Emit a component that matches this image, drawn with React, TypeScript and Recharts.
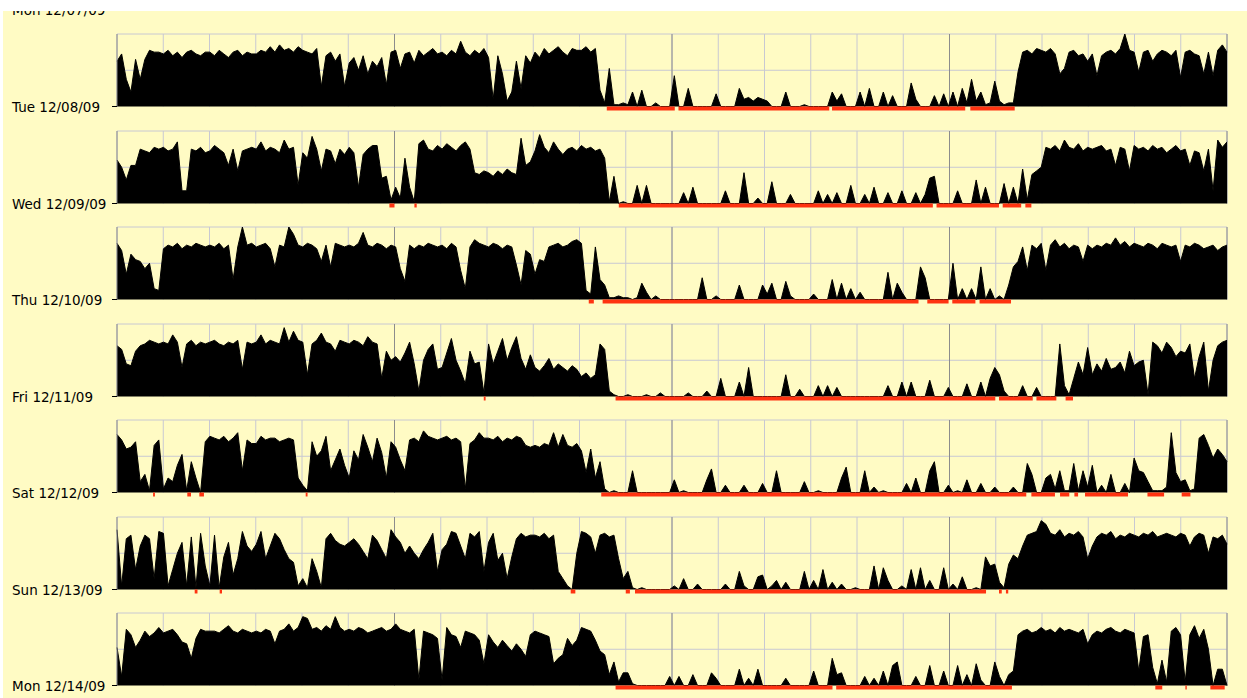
import React from "react";
import {
  ComposedChart,
  Area,
  XAxis,
  YAxis,
  CartesianGrid,
  ReferenceArea,
} from "recharts";

// activity counts in 6-minute bins (10 per hour, 240 per day), scale 0..40
const dayLabels = [
  "Mon 12/07/09",
  "Tue 12/08/09",
  "Wed 12/09/09",
  "Thu 12/10/09",
  "Fri 12/11/09",
  "Sat 12/12/09",
  "Sun 12/13/09",
  "Mon 12/14/09",
];

const hourTicks = [0, 1, 2, 3, 4, 5, 6, 7, 8, 9, 10, 11, 12, 13, 14, 15, 16, 17, 18, 19, 20, 21, 22, 23, 24];
const majorHours = [6, 12, 18, 24];
const levelLines = [10, 20, 30, 40];

const tueActivity = [
  25, 29, 15, 8, 26, 15, 26, 31, 30, 30, 29, 31, 28, 30, 27, 30, 31, 29, 28, 30,
  30, 28, 31, 29, 27, 30, 31, 28, 30, 29, 29, 31, 30, 33, 30, 34, 31, 32, 30, 33,
  31, 30, 29, 32, 11, 28, 30, 25, 29, 11, 24, 27, 20, 28, 18, 25, 22, 27, 12, 30,
  31, 21, 29, 30, 24, 31, 28, 30, 32, 29, 30, 28, 31, 29, 36, 30, 28, 31, 29, 32,
  27, 4, 28, 18, 3, 8, 25, 10, 28, 24, 30, 27, 32, 29, 31, 33, 30, 28, 32, 31,
  31, 33, 30, 32, 9, 2, 21, 1, 1, 2, 1, 8, 0, 9, 0, 0, 2, 0, 0, 0,
  17, 0, 0, 10, 0, 0, 0, 0, 0, 7, 0, 0, 0, 0, 10, 4, 5, 3, 5, 4,
  3, 0, 0, 0, 8, 0, 0, 0, 1, 0, 0, 0, 0, 0, 8, 3, 7, 0, 0, 0,
  8, 0, 10, 0, 0, 8, 0, 6, 0, 0, 0, 13, 4, 0, 0, 0, 6, 0, 7, 0,
  8, 0, 10, 2, 15, 3, 8, 1, 2, 14, 3, 1, 2, 2, 19, 30, 31, 29, 32, 31,
  30, 32, 29, 18, 21, 30, 31, 28, 29, 25, 29, 17, 28, 30, 31, 29, 32, 40, 31, 30,
  19, 30, 31, 25, 29, 31, 30, 28, 31, 16, 30, 31, 29, 28, 18, 30, 17, 31, 34, 30,
];

const wedActivity = [
  24, 20, 13, 21, 21, 30, 29, 28, 31, 30, 31, 29, 30, 34, 7, 7, 30, 29, 31, 28,
  29, 32, 30, 28, 21, 30, 18, 29, 30, 31, 30, 34, 29, 31, 30, 28, 35, 30, 31, 10,
  28, 25, 37, 30, 18, 30, 29, 22, 30, 27, 31, 28, 9, 27, 30, 32, 32, 14, 15, 2,
  9, 3, 25, 9, 1, 33, 35, 30, 29, 32, 30, 33, 31, 29, 32, 34, 30, 17, 16, 18,
  17, 15, 18, 16, 19, 17, 16, 36, 21, 23, 29, 38, 31, 28, 34, 30, 27, 30, 31, 29,
  32, 30, 31, 29, 30, 25, 1, 15, 0, 1, 0, 0, 10, 0, 10, 0, 0, 0, 0, 0,
  0, 0, 6, 0, 9, 0, 0, 0, 0, 0, 0, 7, 0, 0, 0, 17, 0, 0, 3, 0,
  0, 12, 0, 0, 0, 5, 0, 0, 0, 0, 0, 7, 0, 5, 0, 6, 0, 0, 10, 0,
  0, 5, 0, 9, 0, 0, 6, 0, 0, 7, 0, 0, 6, 0, 5, 14, 15, 0, 0, 0,
  0, 7, 0, 0, 0, 13, 0, 9, 0, 0, 0, 11, 0, 9, 0, 19, 2, 16, 18, 20,
  31, 30, 32, 29, 35, 31, 30, 33, 29, 31, 30, 31, 32, 29, 30, 21, 31, 30, 18, 32,
  30, 31, 29, 32, 30, 31, 28, 30, 32, 29, 30, 21, 29, 28, 18, 30, 7, 35, 31, 34,
];

const thuActivity = [
  31, 27, 14, 25, 22, 21, 17, 20, 6, 5, 28, 30, 29, 31, 28, 30, 29, 31, 30, 29,
  30, 29, 31, 28, 30, 11, 29, 40, 30, 31, 29, 30, 31, 28, 18, 30, 29, 40, 36, 30,
  29, 31, 30, 28, 21, 30, 18, 31, 30, 29, 30, 29, 31, 37, 30, 29, 31, 30, 28, 30,
  29, 17, 10, 30, 28, 30, 29, 31, 30, 29, 30, 28, 31, 29, 16, 6, 29, 33, 31, 30,
  29, 31, 30, 28, 30, 29, 19, 8, 27, 25, 14, 22, 21, 29, 30, 31, 29, 30, 32, 33,
  31, 5, 3, 29, 11, 8, 1, 1, 2, 1, 1, 0, 1, 9, 4, 0, 2, 0, 0, 0,
  0, 0, 0, 0, 0, 0, 12, 0, 0, 2, 0, 0, 0, 0, 8, 0, 0, 0, 0, 8,
  3, 9, 0, 0, 10, 2, 0, 0, 0, 0, 3, 0, 0, 0, 11, 0, 9, 0, 6, 0,
  4, 0, 0, 0, 0, 0, 15, 0, 9, 4, 0, 0, 0, 18, 12, 0, 0, 0, 0, 0,
  20, 0, 6, 0, 6, 0, 18, 0, 6, 0, 2, 0, 8, 18, 21, 29, 16, 30, 28, 31,
  16, 30, 33, 29, 31, 28, 30, 29, 21, 30, 28, 30, 29, 31, 30, 34, 30, 32, 29, 31,
  30, 29, 31, 30, 28, 31, 30, 29, 30, 21, 30, 29, 31, 30, 28, 29, 30, 27, 29, 30,
];

const friActivity = [
  28, 26, 18, 17, 25, 28, 29, 31, 30, 29, 30, 29, 34, 30, 16, 29, 31, 28, 30, 29,
  30, 31, 29, 28, 30, 29, 31, 15, 30, 29, 30, 34, 29, 31, 30, 29, 38, 30, 36, 31,
  30, 12, 29, 31, 35, 30, 29, 25, 31, 30, 29, 31, 30, 28, 33, 30, 29, 10, 25, 20,
  22, 19, 24, 30, 18, 3, 20, 26, 29, 15, 16, 24, 32, 20, 14, 7, 25, 18, 19, 2,
  29, 18, 25, 32, 20, 27, 33, 21, 15, 23, 16, 14, 17, 21, 15, 18, 16, 14, 17, 15,
  11, 13, 10, 12, 29, 26, 3, 1, 0, 0, 1, 0, 0, 0, 1, 0, 0, 2, 0, 0,
  0, 0, 0, 2, 0, 0, 0, 3, 0, 0, 10, 0, 0, 0, 8, 0, 16, 0, 0, 0,
  0, 0, 0, 0, 12, 0, 0, 4, 0, 0, 0, 6, 0, 6, 0, 5, 0, 0, 0, 0,
  0, 0, 0, 0, 0, 0, 6, 0, 0, 8, 0, 8, 0, 0, 0, 9, 0, 0, 0, 5,
  0, 0, 0, 7, 0, 0, 8, 0, 10, 16, 12, 3, 0, 0, 0, 6, 0, 0, 5, 0,
  0, 0, 0, 29, 6, 1, 10, 19, 12, 27, 12, 18, 14, 21, 15, 16, 19, 13, 25, 17,
  19, 20, 1, 30, 28, 24, 30, 27, 22, 25, 24, 29, 10, 22, 30, 3, 20, 28, 30, 31,
];

const satActivity = [
  32, 29, 24, 25, 28, 6, 10, 1, 26, 29, 2, 8, 6, 15, 21, 1, 17, 8, 0, 28,
  31, 30, 29, 31, 28, 30, 33, 12, 29, 27, 27, 31, 29, 30, 30, 28, 29, 30, 29, 8,
  4, 1, 28, 20, 23, 31, 12, 18, 24, 15, 8, 23, 18, 32, 25, 17, 30, 22, 8, 28,
  25, 18, 12, 29, 30, 28, 34, 31, 30, 29, 30, 31, 29, 30, 28, 2, 27, 29, 33, 30,
  30, 29, 31, 28, 30, 29, 31, 30, 26, 25, 26, 25, 27, 26, 33, 25, 32, 26, 25, 27,
  23, 11, 24, 8, 17, 2, 0, 1, 0, 0, 0, 12, 0, 0, 0, 0, 0, 0, 0, 0,
  7, 0, 1, 0, 0, 0, 0, 7, 13, 0, 0, 4, 0, 0, 0, 4, 0, 0, 0, 5,
  0, 0, 12, 0, 0, 0, 0, 0, 6, 0, 0, 1, 0, 0, 0, 0, 8, 14, 0, 0,
  0, 12, 0, 3, 0, 1, 0, 0, 0, 0, 5, 0, 8, 0, 0, 12, 17, 0, 0, 4,
  0, 1, 0, 7, 0, 0, 5, 0, 0, 3, 0, 0, 0, 3, 0, 0, 16, 10, 0, 0,
  8, 10, 2, 12, 1, 1, 16, 1, 12, 3, 15, 0, 4, 0, 10, 0, 0, 5, 0, 19,
  12, 11, 6, 1, 1, 1, 3, 33, 11, 6, 7, 1, 2, 30, 32, 26, 19, 24, 21, 17,
];

const sunActivity = [
  33, 2, 28, 30, 11, 24, 30, 28, 6, 32, 31, 2, 11, 20, 26, 2, 29, 1, 31, 13,
  2, 30, 1, 18, 26, 8, 17, 32, 24, 21, 25, 32, 17, 24, 31, 28, 22, 17, 15, 2,
  6, 1, 17, 10, 1, 28, 31, 27, 25, 24, 26, 28, 25, 21, 17, 30, 27, 22, 17, 33,
  29, 26, 20, 24, 20, 17, 22, 26, 31, 10, 22, 25, 32, 31, 24, 17, 31, 29, 32, 10,
  26, 31, 16, 20, 6, 18, 28, 31, 29, 30, 30, 29, 31, 28, 30, 10, 6, 2, 0, 20,
  32, 31, 29, 20, 30, 31, 29, 30, 17, 6, 10, 1, 0, 1, 0, 0, 0, 0, 0, 0,
  2, 0, 6, 0, 0, 3, 0, 0, 0, 0, 0, 3, 0, 0, 10, 2, 0, 0, 7, 8,
  0, 2, 5, 0, 4, 0, 0, 0, 10, 0, 5, 0, 11, 0, 4, 0, 3, 0, 0, 1,
  0, 0, 0, 13, 0, 12, 5, 0, 0, 2, 0, 11, 0, 12, 0, 5, 0, 0, 12, 0,
  3, 0, 7, 0, 0, 1, 0, 18, 13, 14, 4, 1, 14, 19, 17, 24, 30, 31, 32, 38,
  36, 31, 30, 33, 29, 31, 30, 32, 29, 17, 24, 29, 31, 30, 32, 28, 30, 29, 31, 30,
  29, 31, 30, 32, 29, 30, 31, 30, 29, 31, 30, 24, 29, 31, 30, 20, 29, 28, 30, 25,
];

const monActivity = [
  21, 5, 31, 28, 21, 25, 30, 27, 29, 32, 29, 30, 31, 28, 24, 23, 15, 26, 31, 30,
  30, 30, 29, 31, 33, 30, 29, 31, 30, 29, 30, 29, 31, 30, 23, 30, 31, 34, 30, 32,
  38, 37, 31, 32, 30, 33, 31, 38, 32, 30, 31, 30, 32, 31, 29, 30, 31, 32, 30, 31,
  34, 31, 30, 29, 31, 3, 30, 29, 28, 26, 3, 32, 28, 27, 21, 30, 29, 28, 25, 12,
  28, 24, 21, 25, 22, 19, 23, 20, 16, 28, 30, 29, 28, 27, 12, 15, 17, 26, 22, 25,
  32, 31, 30, 25, 19, 17, 6, 13, 2, 7, 7, 1, 0, 0, 0, 0, 0, 0, 0, 5,
  0, 5, 0, 0, 6, 0, 0, 0, 7, 4, 0, 0, 0, 0, 9, 0, 4, 0, 9, 0,
  0, 0, 0, 0, 4, 0, 0, 0, 0, 0, 8, 0, 0, 0, 15, 6, 7, 0, 0, 0,
  0, 5, 0, 4, 0, 8, 0, 11, 13, 0, 0, 0, 5, 0, 0, 11, 0, 0, 8, 0,
  0, 11, 0, 6, 0, 12, 3, 0, 0, 13, 5, 0, 6, 8, 28, 30, 31, 29, 30, 32,
  30, 31, 29, 32, 30, 31, 30, 29, 31, 23, 28, 30, 29, 31, 32, 30, 29, 31, 30, 29,
  8, 27, 28, 10, 1, 14, 2, 30, 32, 28, 2, 28, 33, 26, 31, 20, 0, 9, 9, 0,
];

// sleep periods, [start hour, end hour]
const tueSleep = [[10.59, 12.06], [12.14, 15.4], [15.46, 18.34], [18.45, 19.41]];
const wedSleep = [[5.89, 6.0], [6.43, 6.48], [10.85, 17.64], [17.72, 19.07], [19.15, 19.55], [19.64, 19.77]];
const thuSleep = [[10.2, 10.31], [10.5, 17.33], [17.52, 17.98], [18.06, 18.56], [18.65, 19.33]];
const friSleep = [[7.93, 7.97], [10.78, 18.99], [19.07, 19.8], [19.88, 20.31], [20.51, 20.67]];
const satSleep = [
  [0.78, 0.82], [1.52, 1.6], [1.78, 1.88], [4.08, 4.12], [10.47, 19.66], [19.77, 20.28],
  [20.39, 20.59], [20.7, 20.78], [20.93, 21.86], [22.28, 22.64], [23.02, 23.21],
];
const sunSleep = [[1.68, 1.74], [2.22, 2.27], [9.81, 9.91], [11.0, 11.09], [11.2, 18.79], [19.07, 19.13], [19.22, 19.27]];
const monSleep = [[10.78, 15.47], [15.55, 19.35], [22.45, 22.6], [23.1, 23.13], [23.64, 23.95]];

const rows = [
  { label: dayLabels[1], activity: tueActivity, sleep: tueSleep },
  { label: dayLabels[2], activity: wedActivity, sleep: wedSleep },
  { label: dayLabels[3], activity: thuActivity, sleep: thuSleep },
  { label: dayLabels[4], activity: friActivity, sleep: friSleep },
  { label: dayLabels[5], activity: satActivity, sleep: satSleep },
  { label: dayLabels[6], activity: sunActivity, sleep: sunSleep },
  { label: dayLabels[7], activity: monActivity, sleep: monSleep },
];

const BG = "#fffbc4";
const FONT = "DejaVu Sans";
const FIRST_TOP = 34;
const PITCH = 96.58;
const PANEL_H = 72.5;

// empty tick so the grid still gets the hour positions
const NoTick = () => <g />;

function DayRow({ label, activity, sleep, top }: any) {
  const data = activity.map((v: number, i: number) => ({
    t: (i * 24) / (activity.length - 1),
    v,
  }));
  return (
    <div style={{ position: "absolute", left: 0, top: top - 2 }}>
      <ComposedChart
        width={1247}
        height={PANEL_H + 11.5}
        data={data}
        margin={{ top: 2, right: 20, bottom: 9.5, left: 0 }}
      >
        <CartesianGrid
          stroke="#c8c8d2"
          horizontalValues={levelLines}
          verticalValues={hourTicks}
        />
        <CartesianGrid
          stroke="#8c8c8c"
          horizontal={false}
          verticalValues={majorHours}
        />
        <XAxis
          dataKey="t"
          type="number"
          domain={[0, 24]}
          ticks={hourTicks}
          interval={0}
          tick={NoTick}
          tickLine={false}
          height={0}
          axisLine={{ stroke: "#4a4a3c" }}
        />
        <YAxis
          type="number"
          domain={[0, 40]}
          ticks={[0]}
          width={117}
          tickLine={false}
          axisLine={{ stroke: "#8a8a8a" }}
          tick={(p: any) => (
            <g>
              <line x1={112} x2={117} y1={p.y} y2={p.y} stroke="#000" />
              <text x={12} y={p.y + 5} fontFamily={FONT} fontSize={13.5} fill="#000">
                {label}
              </text>
            </g>
          )}
        />
        <Area
          type="linear"
          dataKey="v"
          stroke="#000"
          strokeWidth={1}
          fill="#000"
          fillOpacity={1}
          dot={false}
          activeDot={false}
          isAnimationActive={false}
        />
        {sleep.map((s: number[], k: number) => (
          <ReferenceArea
            key={k}
            x1={s[0]}
            x2={s[1]}
            y1={-2.2}
            y2={0}
            fill="#ff3311"
            fillOpacity={1}
            stroke="none"
            ifOverflow="visible"
          />
        ))}
      </ComposedChart>
    </div>
  );
}

export default function App() {
  return (
    <div
      style={{
        position: "absolute",
        left: 0,
        top: 0,
        width: 1247,
        height: 698,
        background: "#fff",
        overflow: "hidden",
      }}
    >
      <div
        style={{
          position: "absolute",
          left: 3,
          top: 11,
          width: 1244,
          height: 687,
          background: BG,
          overflow: "hidden",
        }}
      >
        <svg width={300} height={30} style={{ position: "absolute", left: -3, top: -11 }}>
          <text x={12} y={15} fontFamily={FONT} fontSize={13.5} fill="#000">
            {dayLabels[0]}
          </text>
        </svg>
      </div>
      {rows.map((r, i) => (
        <DayRow
          key={r.label}
          label={r.label}
          activity={r.activity}
          sleep={r.sleep}
          top={FIRST_TOP + i * PITCH}
        />
      ))}
    </div>
  );
}
